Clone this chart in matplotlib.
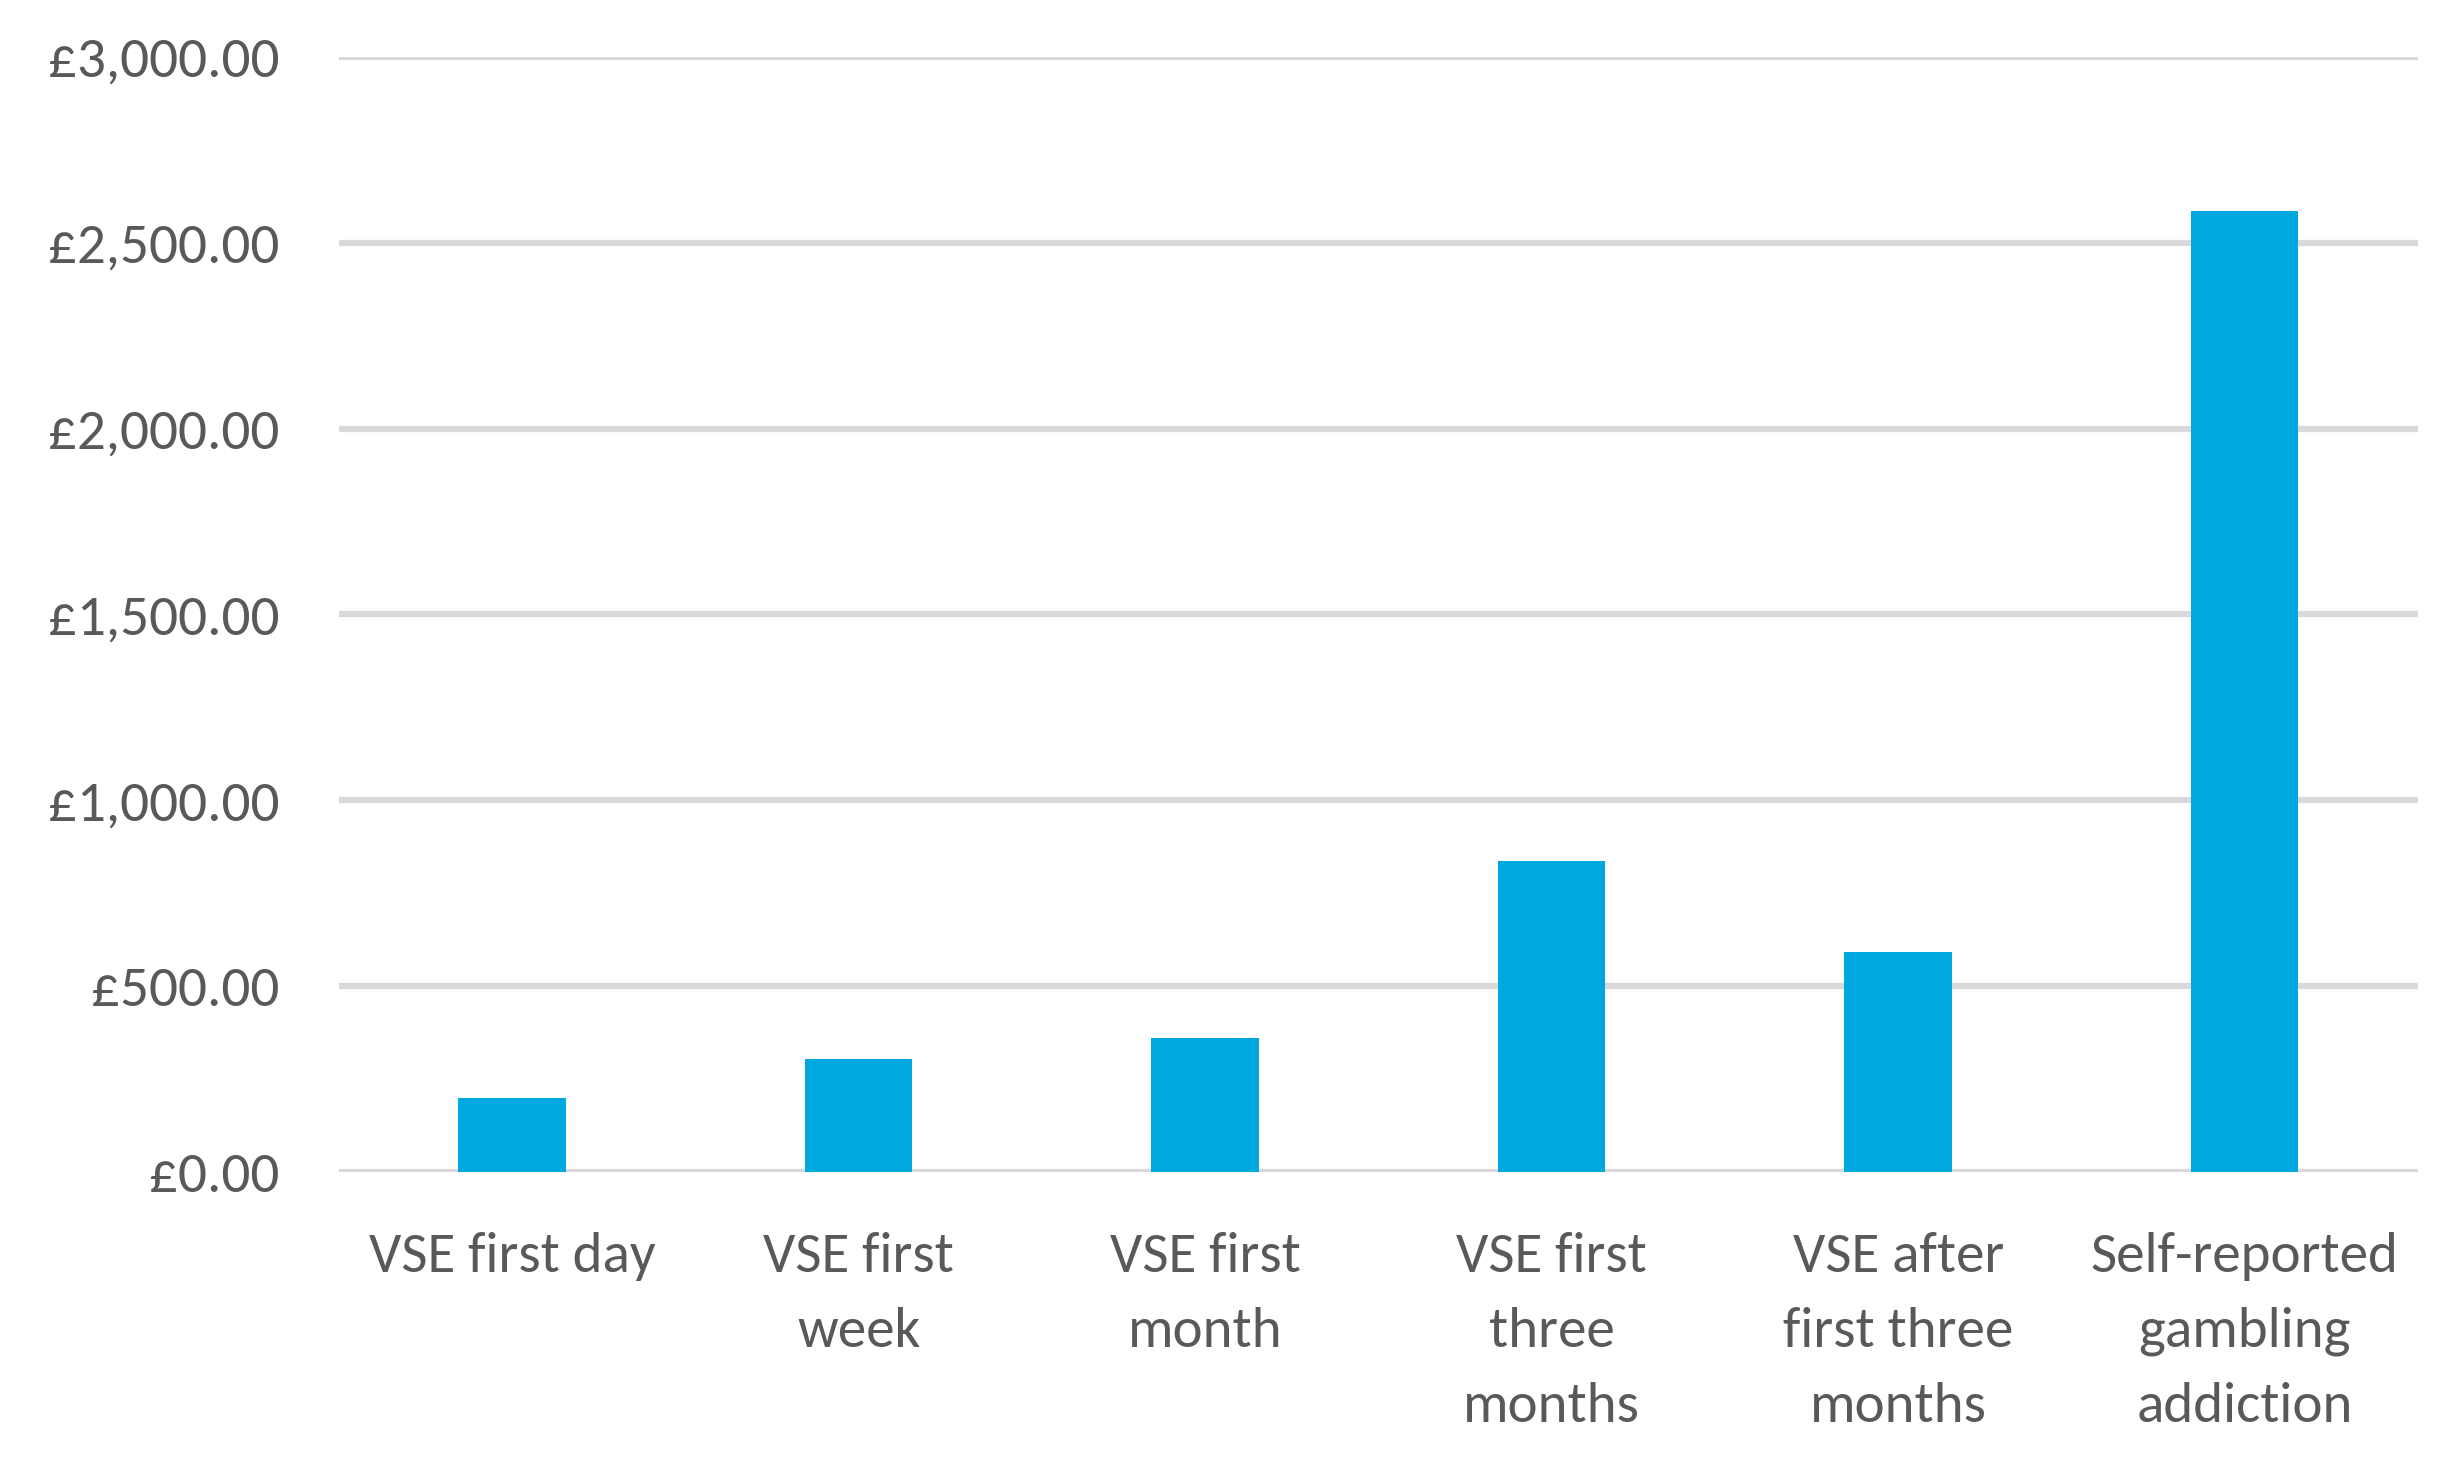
import matplotlib
matplotlib.use("Agg")
import matplotlib.pyplot as plt
from matplotlib import font_manager as fm

categories = ["VSE first day", "VSE first\nweek", "VSE first\nmonth",
              "VSE first\nthree\nmonths", "VSE after\nfirst three\nmonths",
              "Self-reported\ngambling\naddiction"]
values = [200, 303, 360, 837, 593, 2585]
yticks = [0, 500, 1000, 1500, 2000, 2500, 3000]

available = {f.name for f in fm.fontManager.ttflist}
font = "Lato"
size = 37.5
for cand, sz in [("Carlito", 41)]:
    if cand in available:
        font, size = cand, sz
        break
plt.rcParams['font.family'] = [font, 'DejaVu Sans']

fig = plt.figure(figsize=(24.49, 14.62), dpi=100)
ax = fig.add_axes([0.1384, 0.1984, 0.8489, 0.7626])

x = list(range(len(categories)))
ax.bar(x, values, width=0.31, color="#00A8E0", zorder=3)

ax.set_xlim(-0.5, len(categories) - 0.5)
ax.set_ylim(0, 3000)
ax.set_yticks(yticks)
ax.set_yticklabels([f"£{v:,.2f}" for v in yticks])
ax.set_xticks(x)
ax.set_xticklabels(categories, linespacing=1.65)

for s in ax.spines.values():
    s.set_visible(False)
ax.yaxis.grid(True, color="#D9D9D9", linewidth=4.5, zorder=0)
ax.set_axisbelow(True)
ax.tick_params(axis='both', length=0, labelsize=size, colors="#595959")
ax.tick_params(axis='y', pad=43)
ax.tick_params(axis='x', pad=43)

fig.savefig("out.png", dpi=100, facecolor="white")
